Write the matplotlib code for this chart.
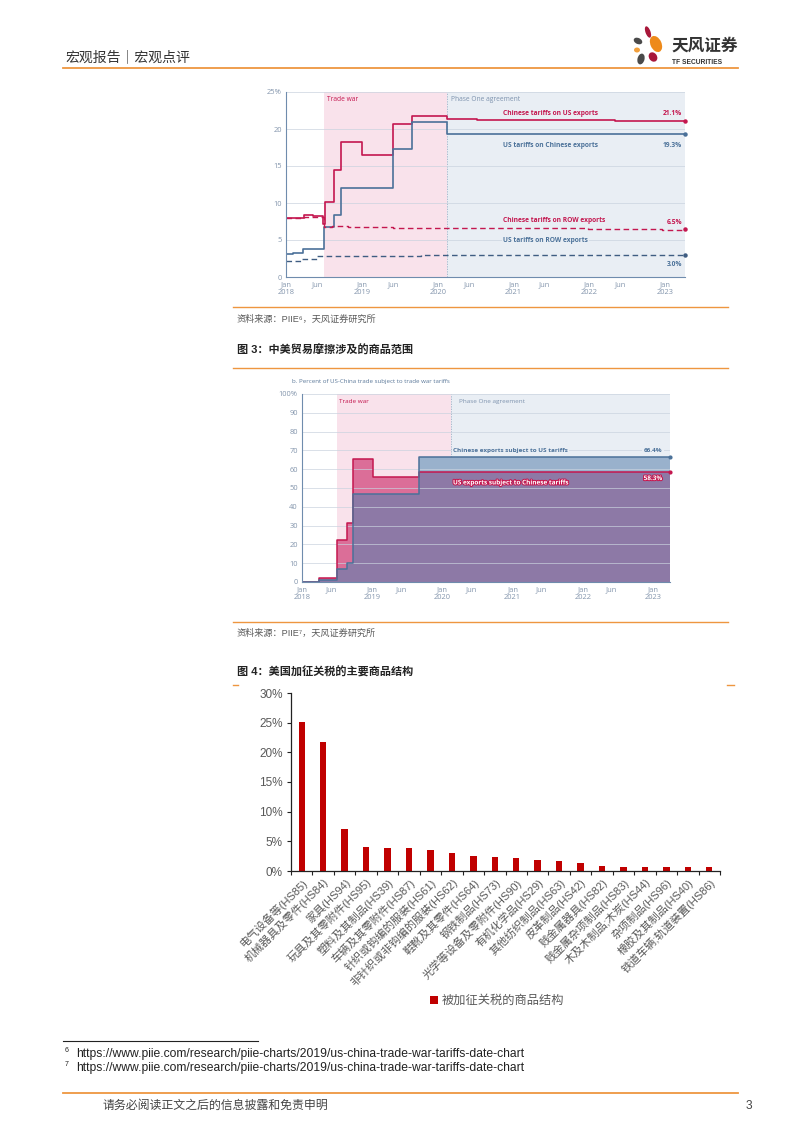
import numpy as np
import matplotlib
matplotlib.use('Agg')
import matplotlib.pyplot as plt
from matplotlib.patches import Ellipse
import matplotlib.patheffects as pe

plt.rcParams['font.family'] = ['Liberation Sans', 'Noto Sans CJK SC', 'DejaVu Sans']

# ---------------- data ----------------
# chart 1: average tariff rates (%), step series, x in decimal years
cn_us_x = [2018.0, 2018.24, 2018.36, 2018.49, 2018.51, 2018.63, 2018.73, 2018.85, 2019.0,
           2019.41, 2019.66, 2020.12, 2020.52, 2022.34, 2023.26]
cn_us_y = [8.0, 8.4, 8.3, 7.2, 10.1, 14.4, 18.3, 18.2, 16.5, 20.7, 21.8, 21.3, 21.2, 21.1, 21.1]
us_cn_x = [2018.0, 2018.09, 2018.22, 2018.5, 2018.63, 2018.73, 2019.41, 2019.66, 2020.12, 2023.26]
us_cn_y = [3.1, 3.2, 3.8, 6.7, 8.4, 12.0, 17.3, 21.0, 19.3, 19.3]
cn_row_x = [2018.0, 2018.24, 2018.5, 2018.6, 2018.82, 2019.41, 2021.98, 2022.96, 2023.22, 2023.26]
cn_row_y = [8.0, 8.1, 6.8, 6.9, 6.7, 6.6, 6.5, 6.4, 6.5, 6.5]
us_row_x = [2018.0, 2018.21, 2018.41, 2019.41, 2019.78, 2023.26]
us_row_y = [2.2, 2.5, 2.9, 2.8, 3.0, 3.0]

# chart 2: share of trade subject to tariffs (%)
cn_sub_x = [2018.0, 2018.24, 2018.5, 2018.64, 2018.73, 2019.01, 2019.67, 2023.24]
cn_sub_y = [0, 2, 22.5, 31.5, 65.5, 56, 58.3, 58.3]
us_sub_x = [2018.0, 2018.24, 2018.5, 2018.64, 2018.73, 2019.67, 2023.24]
us_sub_y = [0, 1, 7, 10, 47, 66.4, 66.4]

# chart 3: product structure
goods = ['电气设备等(HS85)', '机械器具及零件(HS84)', '家具(HS94)', '玩具及其零附件(HS95)',
         '塑料及其制品(HS39)', '车辆及其零附件(HS87)', '针织或钩编的服装(HS61)',
         '非针织或非钩编的服装(HS62)', '鞋靴及其零件(HS64)', '钢铁制品(HS73)',
         '光学等设备及零附件(HS90)', '有机化学品(HS29)', '其他纺织制品(HS63)', '皮革制品(HS42)',
         '贱金属器具(HS82)', '贱金属杂项制品(HS83)', '木及木制品;木炭(HS44)', '杂项制品(HS96)',
         '橡胶及其制品(HS40)', '铁道车辆;轨道装置(HS86)']
shares = [25.1, 21.8, 7.0, 4.1, 3.8, 3.8, 3.6, 3.1, 2.6, 2.4, 2.2, 1.9, 1.7, 1.35,
          0.85, 0.7, 0.7, 0.7, 0.7, 0.7]

# ---------------- colours ----------------
ORANGE = '#EE9640'
CRIMSON = '#C4174F'
BLUE = '#4B7199'
DBLUE = '#3F5D82'
PINK_BG = '#F9E2EB'
BLUE_BG = '#E9EEF4'
GRID = '#C9D2DE'
TICK = '#8395AC'
GREY = '#595959'
CHART_FONT = ['Open Sans', 'DejaVu Sans']

W, H = 802, 1133
fig = plt.figure(figsize=(8.02, 11.33), dpi=100)


def px(l, t, r, b):
    return [l / W, 1 - b / H, (r - l) / W, (b - t) / H]


page = fig.add_axes([0, 0, 1, 1], zorder=-1)
page.set_xlim(0, W)
page.set_ylim(H, 0)
page.axis('off')

# header
page.text(65, 57, '宏观报告｜宏观点评', fontsize=10, color='#333333', va='center')
page.plot([63, 738], [68, 68], color=ORANGE, lw=1.3)
petals = [((648, 32), 5, 12, -20, '#A8173A'), ((656, 44), 11, 17, -25, '#EE8A1A'),
          ((638, 41), 9, 6, 25, '#4A4A4A'), ((637, 50), 6, 5, 0, '#F2A03D'),
          ((641, 59), 7, 11, 15, '#4A4A4A'), ((653, 57), 8, 10, -35, '#A8173A')]
for c, w, h, a, col in petals:
    page.add_patch(Ellipse(c, w, h, angle=a, color=col, lw=0))
page.text(671, 46, '天风证券', fontsize=12, fontweight='bold', color='#333333', va='center')
page.text(672, 62, 'TF SECURITIES', fontsize=4.8, fontweight='bold', color='#333333', va='center')


def time_axis(ax, x_end, top, ytick_step):
    ax.set_xlim(2018, x_end)
    ax.set_ylim(0, top)
    ax.axvspan(2018.5, 2020.12, color=PINK_BG, lw=0, zorder=0)
    ax.axvspan(2020.12, x_end, color=BLUE_BG, lw=0, zorder=0)
    ax.axvline(2020.12, color='#9FB0C6', lw=0.6, ls=(0, (1.5, 1.5)), zorder=1)
    yt = np.arange(0, top + 1, ytick_step)
    for y in yt[1:]:
        ax.axhline(y, color=GRID, lw=0.6, zorder=4, alpha=0.8)
    ax.set_yticks(yt)
    ax.set_yticklabels([str(int(v)) for v in yt[:-1]] + [str(int(top)) + '%'])
    years = np.arange(2018, 2024)
    xt = list(years) + list(years[:-1] + 0.41)
    xl = ['Jan\n%d' % y for y in years] + ['Jun'] * 5
    ax.set_xticks(xt)
    ax.set_xticklabels(xl, linespacing=1.2)
    ax.tick_params(length=0, pad=3, labelsize=5.4, colors=TICK)
    for lab in ax.get_xticklabels() + ax.get_yticklabels():
        lab.set_family(CHART_FONT)
    for s in ['top', 'right']:
        ax.spines[s].set_visible(False)
    for s in ['left', 'bottom']:
        ax.spines[s].set_color('#6F8CAD')
        ax.spines[s].set_linewidth(0.8)
        ax.spines[s].set_zorder(6)


# ---------------- chart 1 ----------------
ax1 = fig.add_axes(px(286, 92, 685, 277))
time_axis(ax1, 2023.26, 25, 5)
ax1.plot(cn_us_x, cn_us_y, drawstyle='steps-post', color=CRIMSON, lw=1.2, zorder=5)
ax1.plot(us_cn_x, us_cn_y, drawstyle='steps-post', color=BLUE, lw=1.2, zorder=5)
ax1.plot(cn_row_x, cn_row_y, drawstyle='steps-post', color=CRIMSON, lw=1.0, ls=(0, (4, 2.5)), zorder=5)
ax1.plot(us_row_x, us_row_y, drawstyle='steps-post', color=DBLUE, lw=1.0, ls=(0, (4, 2.5)), zorder=5)
for xs, ys, col in [(cn_us_x, cn_us_y, CRIMSON), (us_cn_x, us_cn_y, BLUE),
                    (cn_row_x, cn_row_y, CRIMSON), (us_row_x, us_row_y, DBLUE)]:
    ax1.plot(xs[-1], ys[-1], 'o', ms=2.2, color=col, zorder=7, clip_on=False)

lab = dict(fontsize=4.8, fontweight='bold', va='center', family=CHART_FONT, zorder=8)
ax1.text(2018.54, 24.0, 'Trade war', color=CRIMSON, fontsize=4.8, va='center', family=CHART_FONT)
ax1.text(2020.18, 24.0, 'Phase One agreement', color='#7E93AE', fontsize=4.8, va='center', family=CHART_FONT)
ax1.text(2020.86, 22.1, 'Chinese tariffs on US exports', color=CRIMSON, **lab)
ax1.text(2023.22, 22.1, '21.1%', color=CRIMSON, ha='right', **lab)
ax1.text(2020.86, 17.8, 'US tariffs on Chinese exports', color=BLUE, **lab)
ax1.text(2023.22, 17.8, '19.3%', color=BLUE, ha='right', **lab)
ax1.text(2020.86, 7.7, 'Chinese tariffs on ROW exports', color=CRIMSON, **lab)
ax1.text(2023.22, 7.3, '6.5%', color=CRIMSON, ha='right', **lab)
ax1.text(2020.86, 4.9, 'US tariffs on ROW exports', color=BLUE,
         bbox=dict(boxstyle='square,pad=0.2', fc=BLUE_BG, ec='none'), **lab)
ax1.text(2023.22, 1.75, '3.0%', color=BLUE, ha='right', **lab)

page.plot([233, 728], [307, 307], color=ORANGE, lw=1.0)
page.text(237, 319, '资料来源：PIIE⁶，天风证券研究所', fontsize=6.6, color=GREY, va='center')
page.text(237, 350, '图 3：中美贸易摩擦涉及的商品范围', fontsize=8, fontweight='bold', color='#222222', va='center')
page.plot([233, 728], [368, 368], color=ORANGE, lw=1.0)

# ---------------- chart 2 ----------------
page.text(292, 382, 'b. Percent of US-China trade subject to trade war tariffs', fontsize=4.4,
          color='#5B7899', va='center', family=CHART_FONT)
ax2 = fig.add_axes(px(302, 394, 670, 582))
time_axis(ax2, 2023.24, 100, 10)
grid_x = np.array(sorted(set(cn_sub_x) | set(us_sub_x)))
cn_step = np.array(cn_sub_y)[np.searchsorted(cn_sub_x, grid_x, side='right') - 1]
us_step = np.array(us_sub_y)[np.searchsorted(us_sub_x, grid_x, side='right') - 1]
ax2.fill_between(grid_x, cn_step, step='post', color='#DB6E98', lw=0, zorder=2)
ax2.fill_between(grid_x, us_step, step='post', color='#99B1CC', lw=0, zorder=2)
ax2.fill_between(grid_x, np.minimum(cn_step, us_step), step='post', color='#8D79A6', lw=0, zorder=3)
ax2.plot(cn_sub_x, cn_sub_y, drawstyle='steps-post', color=CRIMSON, lw=1.1, zorder=5)
ax2.plot(us_sub_x, us_sub_y, drawstyle='steps-post', color=BLUE, lw=1.1, zorder=5)
ax2.plot(cn_sub_x[-1], cn_sub_y[-1], 'o', ms=2.0, color=CRIMSON, zorder=7, clip_on=False)
ax2.plot(us_sub_x[-1], us_sub_y[-1], 'o', ms=2.0, color=BLUE, zorder=7, clip_on=False)
ax2.text(2018.53, 96, 'Trade war', color=CRIMSON, fontsize=4.6, va='center', family=CHART_FONT)
ax2.text(2020.24, 96, 'Phase One agreement', color='#7E93AE', fontsize=4.6, va='center', family=CHART_FONT)
lab2 = dict(fontsize=4.6, fontweight='bold', va='center', family=CHART_FONT, zorder=8)
ax2.text(2020.15, 69.7, 'Chinese exports subject to US tariffs', color=BLUE,
         bbox=dict(boxstyle='square,pad=0.2', fc=BLUE_BG, ec='none'), **lab2)
ax2.text(2023.13, 69.7, '66.4%', color=BLUE, ha='right',
         bbox=dict(boxstyle='square,pad=0.2', fc=BLUE_BG, ec='none'), **lab2)
stroke = [pe.withStroke(linewidth=1.5, foreground=CRIMSON)]
ax2.text(2020.15, 52.7, 'US exports subject to Chinese tariffs', color='white',
         path_effects=stroke, **lab2)
ax2.text(2023.13, 55.0, '58.3%', color='white', ha='right', path_effects=stroke, **lab2)

page.plot([233, 728], [622, 622], color=ORANGE, lw=1.0)
page.text(237, 633, '资料来源：PIIE⁷，天风证券研究所', fontsize=6.6, color=GREY, va='center')
page.text(237, 672, '图 4：美国加征关税的主要商品结构', fontsize=8, fontweight='bold', color='#222222', va='center')
page.plot([233, 238], [685, 685], color=ORANGE, lw=1.0)
page.plot([727, 734], [685, 685], color=ORANGE, lw=1.0)

# ---------------- chart 3 ----------------
ax3 = fig.add_axes(px(291, 693, 720, 871))
pos = np.arange(len(goods))
bars = ax3.bar(pos, np.array(shares) / 100, width=0.3, color='#C00000', label='被加征关税的商品结构')
ax3.set_xlim(-0.5, len(goods) - 0.5)
ax3.set_ylim(0, 0.30)
ax3.set_yticks(np.arange(0, 0.31, 0.05))
ax3.set_yticklabels(['%d%%' % v for v in range(0, 31, 5)])
ax3.set_xticks(pos)
ax3.set_xticklabels(goods, rotation=45, ha='right', rotation_mode='anchor')
ax3.set_xticks(np.arange(-0.5, len(goods), 1), minor=True)
ax3.tick_params(axis='x', which='major', length=0, pad=4, labelsize=8, labelcolor=GREY)
ax3.tick_params(axis='x', which='minor', length=3, width=0.8, color='#222222')
ax3.tick_params(axis='y', length=3, width=0.8, color='#222222', labelsize=8.5, labelcolor=GREY, pad=3)
for s in ['top', 'right']:
    ax3.spines[s].set_visible(False)
for s in ['left', 'bottom']:
    ax3.spines[s].set_color('#222222')
    ax3.spines[s].set_linewidth(0.9)
ax3.legend(loc='center', bbox_to_anchor=(497 / W, 1 - 1001 / H), bbox_transform=fig.transFigure,
           frameon=False, fontsize=8.8, handlelength=0.6, handleheight=0.6, handletextpad=0.3,
           labelcolor=GREY)

# footnotes and footer
page.plot([63, 258], [1041, 1041], color='#222222', lw=0.8)
page.text(65, 1051, '6', fontsize=5, color='#222222', va='center')
page.text(76, 1054, 'https://www.piie.com/research/piie-charts/2019/us-china-trade-war-tariffs-date-chart',
          fontsize=8.7, color='#222222', va='center')
page.text(65, 1065, '7', fontsize=5, color='#222222', va='center')
page.text(76, 1068, 'https://www.piie.com/research/piie-charts/2019/us-china-trade-war-tariffs-date-chart',
          fontsize=8.7, color='#222222', va='center')
page.plot([63, 738], [1093, 1093], color=ORANGE, lw=1.3)
page.text(103, 1106, '请务必阅读正文之后的信息披露和免责申明', fontsize=8.6, color='#444444', va='center')
page.text(752, 1106, '3', fontsize=8.6, color='#444444', va='center', ha='right')

fig.savefig('out.png', dpi=100)
